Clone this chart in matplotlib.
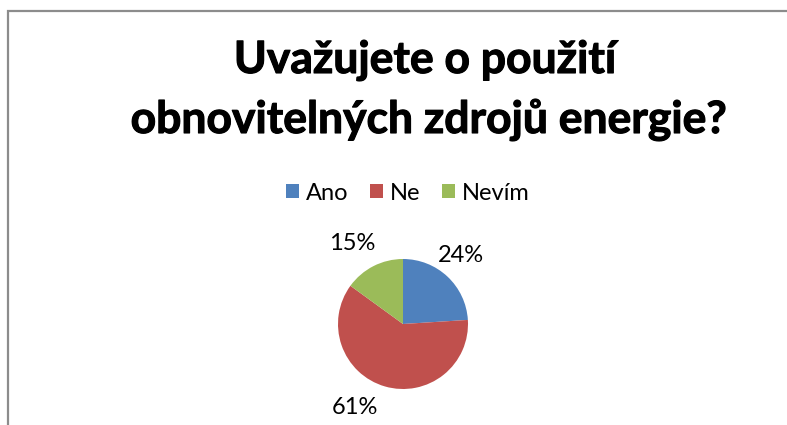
import matplotlib
matplotlib.use("Agg")
import matplotlib.pyplot as plt
import matplotlib.patheffects as pe
from matplotlib.patches import Patch
from matplotlib.lines import Line2D

categories = ["Ano", "Ne", "Nevím"]
values = [24, 61, 15]
colors = ["#4F81BD", "#C0504D", "#9BBB59"]
title_lines = ["Uvažujete o použití", "obnovitelných zdrojů energie?"]

W, H = 787, 425
fig = plt.figure(figsize=(W / 100, H / 100), dpi=100)
plt.rcParams['font.family'] = ['Lato', 'DejaVu Sans']

# border (left and top edges; the rest lies outside the picture)
bx, by = 7.5, 10.5
fig.add_artist(Line2D([bx / W, bx / W, 1.0], [0.0, 1 - by / H, 1 - by / H],
                      transform=fig.transFigure, color="#8c8c8c", linewidth=1.6,
                      solid_joinstyle="miter"))

# title
bold = [pe.withStroke(linewidth=0.8, foreground="black")]
fig.text(425 / W, 1 - 73 / H, title_lines[0], ha="center", va="baseline",
         fontsize=32, fontweight="bold", color="black", path_effects=bold)
fig.text(429 / W, 1 - 133 / H, title_lines[1], ha="center", va="baseline",
         fontsize=32, fontweight="bold", color="black", path_effects=bold)

# pie
cx, cy, r = 403, 324, 65
ax = fig.add_axes([(cx - r) / W, (H - cy - r) / H, 2 * r / W, 2 * r / H])
wedges, _ = ax.pie(values, colors=colors, startangle=90, counterclock=False,
                   radius=1.0, wedgeprops=dict(linewidth=0))
ax.set_xlim(-1, 1)
ax.set_ylim(-1, 1)
ax.set_aspect("equal")
ax.axis("off")

label_px = [(461, 256), (355, 408), (352, 243)]
for v, (px, py) in zip(values, label_px):
    fig.text(px / W, 1 - py / H, f"{v}%", ha="center", va="center",
             fontsize=17, color="black")

handles = [Patch(facecolor=c, edgecolor="none") for c in colors]
fig.legend(handles, categories, loc="center", bbox_to_anchor=(408 / W, 1 - 193 / H),
           ncol=3, frameon=False, fontsize=17, handlelength=0.55, handleheight=0.55,
           handletextpad=0.3, columnspacing=0.9)

fig.savefig("out.png", dpi=100, facecolor="white")
